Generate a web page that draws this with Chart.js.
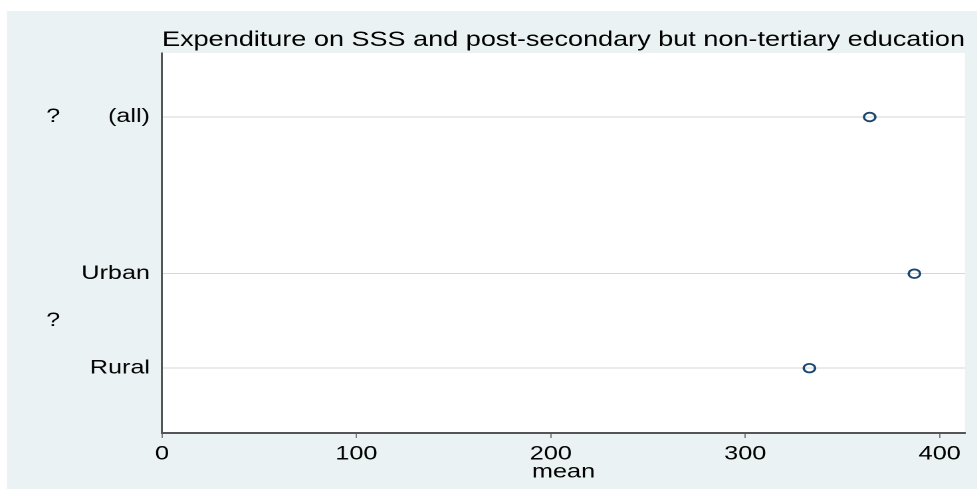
<!DOCTYPE html>
<html>
<head>
<meta charset="utf-8">
<script src="https://cdn.jsdelivr.net/npm/chart.js@4/dist/chart.umd.min.js"></script>
<style>
  html, body { margin: 0; padding: 0; background: #ffffff; overflow: hidden; }
  /* The chart is laid out on a narrower canvas and widened horizontally,
     which gives the wide lettering and oval markers of the graph. */
  #wrap {
    position: absolute; left: 0; top: 0;
    width: 735px; height: 490px;
    transform-origin: 0 0;
    transform: scaleX(1.3293);
  }
</style>
</head>
<body>
<div id="wrap"><canvas id="chart"></canvas></div>
<script>
// ---- data ----
const categories   = ['(all)', 'Urban', 'Rural'];
const groupLabels  = ['?', '?'];
const groupMembers = [[0], [1, 2]];          // which category rows belong to each group label
const meanValues   = [364, 387, 333];
const xTickValues  = [0, 100, 200, 300, 400];
const titleText    = 'Expenditure on SSS and post-secondary but non-tertiary education';
const xAxisTitle   = 'mean';

// ---- layout ----
const STRETCH  = 977 / 735;                   // horizontal widening applied by CSS
const rowSlots = [0, 1.66, 2.66];             // vertical slot of each category row
const Y_MIN = -0.678, Y_MAX = 3.347;
const X_MIN = 0, X_MAX = 413;
const FONT = "'Liberation Sans', Arial, Helvetica, sans-serif";
const NAVY = '#1a476f';

// Graph-region tint, white plot area and the group captions on the far left.
const backdrop = {
  id: 'backdrop',
  beforeDraw(chart) {
    const { ctx, chartArea: a } = chart;
    ctx.save();
    ctx.fillStyle = '#ffffff';
    ctx.fillRect(0, 0, chart.width, chart.height);
    ctx.fillStyle = '#eaf2f3';
    ctx.fillRect(7 / STRETCH, 11, chart.width - 7 / STRETCH, 478);
    ctx.fillStyle = '#ffffff';
    ctx.fillRect(a.left, a.top, a.right - a.left, a.bottom - a.top);
    ctx.restore();
  },
  afterDraw(chart) {
    const { ctx } = chart;
    const y = chart.scales.y;
    ctx.save();
    ctx.font = '19px ' + FONT;
    ctx.fillStyle = '#000000';
    ctx.textAlign = 'center';
    ctx.textBaseline = 'middle';
    groupMembers.forEach((rows, g) => {
      const ys = rows.map(r => y.getPixelForValue(rowSlots[r]));
      const py = (Math.min(...ys) + Math.max(...ys)) / 2;
      ctx.fillText(groupLabels[g], 40, py);
    });
    ctx.restore();
  }
};

new Chart(document.getElementById('chart'), {
  type: 'scatter',
  data: {
    datasets: [{
      label: 'mean',
      data: meanValues.map((v, i) => ({ x: v, y: rowSlots[i] })),
      pointStyle: 'circle',
      pointRadius: 4.3,
      pointHoverRadius: 4.3,
      borderWidth: 1.8,
      borderColor: NAVY,
      backgroundColor: 'rgba(255,255,255,0)',
      showLine: false
    }]
  },
  options: {
    responsive: true,
    maintainAspectRatio: false,
    devicePixelRatio: 2,
    animation: false,
    events: [],
    layout: { padding: { left: 0, right: 9.1, top: 0, bottom: 0 } },
    plugins: {
      legend: { display: false },
      tooltip: { enabled: false },
      title: {
        display: true,
        text: titleText,
        fullSize: false,
        color: '#000000',
        font: { family: FONT, size: 21, weight: 'normal' },
        padding: { top: 27.4, bottom: 0.4 }
      }
    },
    scales: {
      x: {
        type: 'linear',
        position: 'bottom',
        min: X_MIN,
        max: X_MAX,
        afterBuildTicks: s => { s.ticks = xTickValues.map(v => ({ value: v })); },
        afterFit: s => { s.height = 57; },
        grid: { drawOnChartArea: false, drawTicks: true, tickLength: 5, color: '#7a7a7a', lineWidth: 1 },
        border: { display: true, color: '#555555', width: 2 },
        ticks: {
          color: '#000000',
          font: { family: FONT, size: 19 },
          padding: 5,
          maxRotation: 0,
          autoSkip: false
        },
        title: {
          display: true,
          text: xAxisTitle,
          color: '#000000',
          font: { family: FONT, size: 19 },
          padding: { top: 0, bottom: 6.5 }
        }
      },
      y: {
        type: 'linear',
        position: 'left',
        reverse: true,
        min: Y_MIN,
        max: Y_MAX,
        afterBuildTicks: s => { s.ticks = rowSlots.map(v => ({ value: v })); },
        afterFit: s => { s.width = 162 / STRETCH; },
        grid: { color: '#d6d6d6', lineWidth: 1, drawTicks: false },
        border: { display: true, color: '#555555', width: 1.5 },
        ticks: {
          color: '#000000',
          font: { family: FONT, size: 19 },
          padding: 9,
          autoSkip: false,
          callback: (v, i) => categories[i]
        }
      }
    }
  },
  plugins: [backdrop]
});
</script>
</body>
</html>
